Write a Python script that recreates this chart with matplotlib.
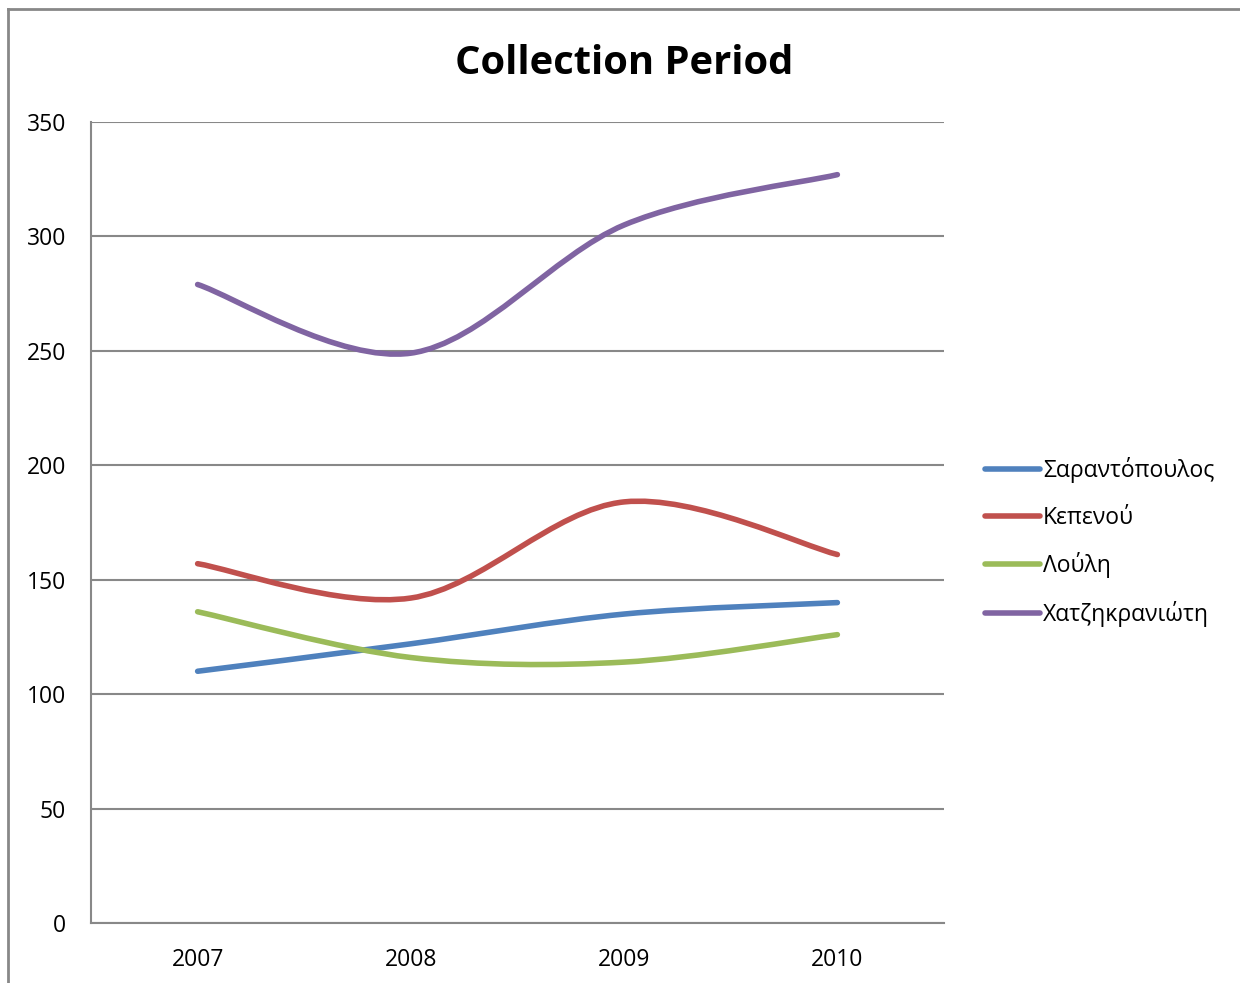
import numpy as np
import matplotlib
matplotlib.use("Agg")
import matplotlib.pyplot as plt
from matplotlib.path import Path
from matplotlib.patches import PathPatch
from matplotlib.lines import Line2D

plt.rcParams["font.family"] = ["Open Sans", "DejaVu Sans"]

years = ["2007", "2008", "2009", "2010"]
names = ["Σαραντόπουλος", "Κεπενού", "Λούλη", "Χατζηκρανιώτη"]
sarantopoulos = [110, 122, 135, 140]
kepenou = [157, 142, 184, 161]
louli = [136, 116, 114, 126]
chatzikranioti = [279, 249, 305, 327]
colors = ["#4F81BD", "#C0504D", "#9BBB59", "#8064A2"]

grid_color = "#888888"


def smooth_path(xs, ys):
    # Excel-style smoothed line: cubic Bezier segments through the points
    pts = np.column_stack([xs, ys]).astype(float)
    padded = np.vstack([pts[0], pts, pts[-1]])
    verts = [pts[0]]
    codes = [Path.MOVETO]
    for i in range(len(pts) - 1):
        p0, p1, p2, p3 = padded[i], padded[i + 1], padded[i + 2], padded[i + 3]
        verts += [p1 + (p2 - p0) / 6, p2 - (p3 - p1) / 6, p2]
        codes += [Path.CURVE4] * 3
    return Path(verts, codes)


fig = plt.figure(figsize=(12.4, 9.83), dpi=100)
ax = fig.add_axes([91 / 1240, 60 / 983, 853 / 1240, 801 / 983])

x = np.arange(len(years))
handles = []
for name, values, color in zip(names, [sarantopoulos, kepenou, louli, chatzikranioti], colors):
    patch = PathPatch(smooth_path(x, values), facecolor="none", edgecolor=color,
                      linewidth=4.0, capstyle="round", joinstyle="round", zorder=3)
    ax.add_patch(patch)
    handles.append(Line2D([], [], color=color, linewidth=4.0, solid_capstyle="round", label=name))

ax.set_xlim(-0.5, len(years) - 0.5)
ax.set_ylim(0, 350)
ax.set_yticks(np.arange(0, 351, 50))
ax.set_xticks(x)
ax.set_xticklabels(years)
ax.yaxis.grid(True, color=grid_color, linewidth=1.5)
ax.set_axisbelow(True)
for side in ["top", "right"]:
    ax.spines[side].set_visible(False)
for side in ["left", "bottom"]:
    ax.spines[side].set_color(grid_color)
    ax.spines[side].set_linewidth(1.5)
ax.tick_params(length=0, labelsize=16.5, pad=18, colors="black")

fig.text(624 / 1240, 1 - 64 / 983, "Collection Period", ha="center", va="center",
         fontsize=28.7, fontweight="bold")

fig.legend(handles=handles, loc="center left", bbox_to_anchor=(985 / 1240, 1 - 542 / 983),
           frameon=False, fontsize=16.5, handlelength=2.4, handletextpad=0.12,
           labelspacing=0.99, borderpad=0, borderaxespad=0)

# outer chart border (left and top edges only visible)
fig.add_artist(Line2D([8 / 1240, 8 / 1240], [0, 1 - 9 / 983], transform=fig.transFigure,
                      color=grid_color, linewidth=2))
fig.add_artist(Line2D([8 / 1240, 1], [1 - 9 / 983, 1 - 9 / 983], transform=fig.transFigure,
                      color=grid_color, linewidth=2))

fig.savefig("out.png", dpi=100)
